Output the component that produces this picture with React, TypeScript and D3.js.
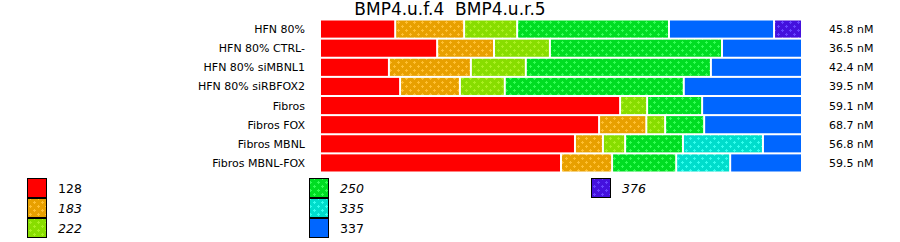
import React from "react";
import * as d3 from "d3";

const categories = [
  "HFN 80%",
  "HFN 80% CTRL-",
  "HFN 80% siMBNL1",
  "HFN 80% siRBFOX2",
  "Fibros",
  "Fibros FOX",
  "Fibros MBNL",
  "Fibros MBNL-FOX",
];
const seriesNames = ["128", "183", "222", "250", "335", "337", "376"];
// percentages per series (columns = seriesNames)
const s128 = [15.6, 24.3, 14.3, 16.6, 62.2, 57.9, 52.9, 50.0];
const s183 = [14.3, 11.8, 17.0, 12.4, 0, 9.8, 5.8, 10.6];
const s222 = [11.0, 11.6, 11.4, 9.3, 5.6, 3.9, 4.6, 0];
const s250 = [31.5, 35.7, 38.4, 37.1, 11.4, 8.1, 12.0, 13.3];
const s335 = [0, 0, 0, 0, 0, 0, 16.6, 11.2];
const s337 = [21.8, 16.6, 18.9, 24.5, 20.7, 20.3, 8.1, 14.9];
const s376 = [5.8, 0, 0, 0, 0, 0, 0, 0];
const concLabels = ["45.8 nM", "36.5 nM", "42.4 nM", "39.5 nM", "59.1 nM", "68.7 nM", "56.8 nM", "59.5 nM"];

const seriesValues = [s128, s183, s222, s250, s335, s337, s376];
const baseColors = ["#ff0000", "#e8a000", "#88dd00", "#00dd22", "#00ddcc", "#0066ff", "#4411dd"];
const dotColors = [null, "#ffc033", "#aaf022", "#33ff55", "#33ffee", null, "#6644ff"];
const italic = [false, true, true, true, true, false, true];

const FONT = "DejaVu Sans, Verdana, sans-serif";

export default function App() {
  const width = 900;
  const height = 242;
  const x = d3.scaleLinear().domain([0, 100]).range([321, 803]);
  const y = d3.scaleBand<string>().domain(categories).range([20, 172]).paddingInner(2 / 19).paddingOuter(0.5 / 19);
  const gap = 2;

  const rows = categories.map((cat, i) => {
    const vals = seriesValues.map((s) => s[i]);
    const total = d3.sum(vals);
    let cum = 0;
    const segs: { k: number; x0: number; x1: number }[] = [];
    vals.forEach((v, k) => {
      const v2 = (v / total) * 100;
      if (v2 > 0) {
        segs.push({ k, x0: x(cum), x1: x(cum + v2) });
      }
      cum += v2;
    });
    return { cat, i, segs };
  });

  const legendCols = [
    { x: 27, items: [0, 1, 2] },
    { x: 309, items: [3, 4, 5] },
    { x: 591, items: [6] },
  ];

  return (
    <svg width={width} height={height} style={{ display: "block", position: "absolute", left: 0, top: 0 }}>
      <defs>
        {baseColors.map((c, k) =>
          dotColors[k] ? (
            <pattern key={k} id={`pat${k}`} patternUnits="userSpaceOnUse" width={8} height={8}>
              <rect width={8} height={8} fill={c} />
              <path d="M1,2h3v1h-3zM2,1h1v3h-1z" fill={dotColors[k] as string} />
              <path d="M5,6h3v1h-3zM6,5h1v3h-1z" fill={dotColors[k] as string} />
            </pattern>
          ) : null
        )}
      </defs>
      <rect width={width} height={height} fill="#fff" />
      <text x={450} y={15} textAnchor="middle" fontFamily={FONT} fontSize={17} fill="#000" style={{ whiteSpace: "pre" }}>
        {"BMP4.u.f.4  BMP4.u.r.5"}
      </text>
      {rows.map((r) => {
        const yy = y(r.cat) as number;
        const bh = y.bandwidth();
        return (
          <g key={r.cat}>
            <text x={305} y={yy + bh / 2 + 4} textAnchor="end" fontFamily={FONT} fontSize={11} fill="#000">
              {r.cat}
            </text>
            {r.segs.map((s, j) => (
              <rect
                key={j}
                x={s.x0}
                y={yy}
                width={Math.max(0, s.x1 - s.x0 - gap)}
                height={bh}
                fill={dotColors[s.k] ? `url(#pat${s.k})` : baseColors[s.k]}
              />
            ))}
            <text x={829} y={yy + bh / 2 + 4} fontFamily={FONT} fontSize={11} fill="#000">
              {concLabels[r.i]}
            </text>
          </g>
        );
      })}
      {legendCols.map((col, ci) => (
        <g key={ci}>
          {col.items.map((k, j) => {
            const ly = 178 + j * 20;
            return (
              <g key={k}>
                <rect
                  x={col.x + 0.5}
                  y={ly + 0.5}
                  width={19}
                  height={19}
                  fill={dotColors[k] ? `url(#pat${k})` : baseColors[k]}
                  stroke="#000"
                  strokeWidth={1}
                />
                <text
                  x={col.x + 31}
                  y={ly + 15}
                  fontFamily={FONT}
                  fontSize={12.5}
                  fontStyle={italic[k] ? "italic" : "normal"}
                  fill="#000"
                >
                  {seriesNames[k]}
                </text>
              </g>
            );
          })}
        </g>
      ))}
    </svg>
  );
}
